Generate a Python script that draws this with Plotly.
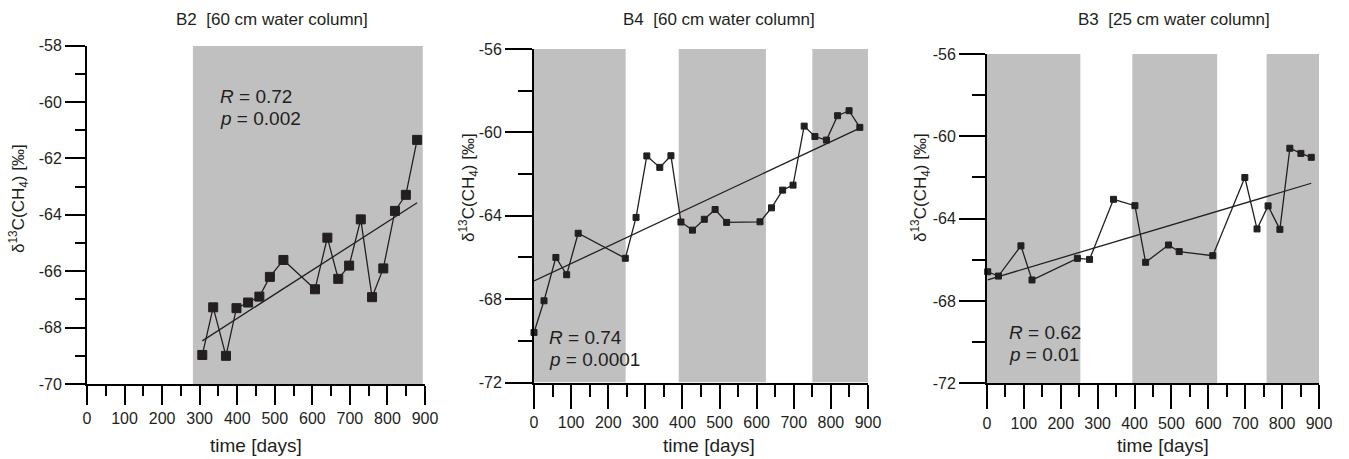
import plotly.graph_objects as go

W, H = 1349, 459
FONT = "Liberation Sans, Arial, sans-serif"
INK = "#231f20"
GREY = "#c0c0c0"

# ---------------- data ----------------
titles = ["B2  [60 cm water column]", "B4  [60 cm water column]", "B3  [25 cm water column]"]

b2_days = [307, 336, 370, 398, 429, 459, 487, 523, 607, 640, 669, 698, 729, 759, 789, 820, 849, 879]
b2_d13c = [-68.97, -67.28, -69.0, -67.31, -67.11, -66.9, -66.2, -65.6, -66.64, -64.81, -66.27,
           -65.8, -64.16, -66.92, -65.9, -63.86, -63.29, -61.34]

b4_days = [0, 27, 59, 88, 119, 246, 275, 304, 339, 369, 396, 427, 459, 488, 519, 609, 640, 670,
           698, 728, 757, 788, 818, 849, 878]
b4_d13c = [-69.6, -68.08, -66.0, -66.83, -64.84, -66.04, -64.08, -61.13, -61.68, -61.12, -64.3,
           -64.69, -64.17, -63.7, -64.32, -64.29, -63.62, -62.77, -62.53, -59.7, -60.2, -60.37,
           -59.2, -58.96, -59.76]

b3_days = [2, 31, 92, 122, 245, 278, 343, 401, 430, 492, 521, 612, 699, 732, 762, 794, 821, 851, 879]
b3_d13c = [-66.58, -66.79, -65.32, -66.98, -65.93, -65.98, -63.06, -63.37, -66.12, -65.28, -65.6,
           -65.8, -62.0, -64.5, -63.38, -64.52, -60.58, -60.83, -61.02]

# linear fits (intercept, slope per day)
b2_fit = [-71.10, 0.008566]
b4_fit = [-67.13, 0.008349]
b3_fit = [-66.98, 0.005347]

# shaded periods (days)
b2_shade = [[282, 894]]
b4_shade = [[0, 247], [390, 625], [750, 905]]
b3_shade = [[0, 253], [394, 624], [758, 915]]

stats_R = ["0.72", "0.74", "0.62"]
stats_p = ["0.002", "0.0001", "0.01"]

x_tickvals = [0, 100, 200, 300, 400, 500, 600, 700, 800, 900]
x_ticktext = ["0", "100", "200", "300", "400", "500", "600", "700", "800", "900"]
x_minor = [50, 150, 250, 350, 450, 550, 650, 750, 850]

y1_tickvals = [-70, -68, -66, -64, -62, -60, -58]
y1_ticktext = ["-70", "-68", "-66", "-64", "-62", "-60", "-58"]
y1_minor = [-69, -67, -65, -63, -61, -59]
y2_tickvals = [-72, -68, -64, -60, -56]
y2_ticktext = ["-72", "-68", "-64", "-60", "-56"]
y2_minor = [-70, -66, -62, -58]

# ---------------- geometry (pixels) ----------------
panels = [
    dict(x0=87, x1=425, ytop=45.7, ybot=384, yr=[-70, -58], xmaj=19, xmin=10, ymaj=20, ymin=10,
         yt=(y1_tickvals, y1_ticktext, y1_minor), title_x=272, ylab_x=19, ylab_y=199,
         stat_x=218, stat_y=96, xlab_x=256, msize=9),
    dict(x0=534, x1=868, ytop=49, ybot=382.5, yr=[-72, -56], xmaj=24, xmin=12, ymaj=27, ymin=14,
         yt=(y2_tickvals, y2_ticktext, y2_minor), title_x=719, ylab_x=469, ylab_y=188,
         stat_x=547, stat_y=337, xlab_x=709, msize=6),
    dict(x0=987, x1=1319, ytop=54, ybot=383.3, yr=[-72, -56], xmaj=24, xmin=12, ymaj=26, ymin=13,
         yt=(y2_tickvals, y2_ticktext, y2_minor), title_x=1174, ylab_x=921, ylab_y=188,
         stat_x=1007, stat_y=332, xlab_x=1163, msize=6),
]
series = [(b2_days, b2_d13c, b2_fit, b2_shade),
          (b4_days, b4_d13c, b4_fit, b4_shade),
          (b3_days, b3_d13c, b3_fit, b3_shade)]

px = lambda x: x / W
py = lambda y: 1 - y / H

fig = go.Figure()
shapes, annotations = [], []

for i, (p, (xd, yd, fit, shade)) in enumerate(zip(panels, series)):
    n = "" if i == 0 else str(i + 1)
    xa, ya = "x" + n, "y" + n
    # data line + markers
    fig.add_trace(go.Scatter(x=xd, y=yd, mode="lines+markers", xaxis=xa, yaxis=ya,
                             line=dict(color=INK, width=1.3),
                             marker=dict(symbol="square", size=p["msize"], color=INK,
                                         line=dict(color=INK, width=1)),
                             showlegend=False, cliponaxis=False))
    # regression line
    fitted = [fit[0] + fit[1] * d for d in xd]
    fig.add_trace(go.Scatter(x=xd, y=fitted, mode="lines", xaxis=xa, yaxis=ya,
                             line=dict(color=INK, width=1.3), showlegend=False))
    # shaded periods
    for s0, s1 in shade:
        shapes.append(dict(type="rect", xref=xa, yref=ya, x0=s0, x1=s1,
                           y0=p["yr"][0], y1=p["yr"][1], fillcolor=GREY,
                           line=dict(width=0), layer="below"))
    tv, tt, tm = p["yt"]
    fig.update_layout(**{
        "xaxis" + n: dict(domain=[px(p["x0"]), px(p["x1"])], range=[0, 900], anchor=ya,
                          automargin=False,
                          showline=True, linecolor="black", linewidth=2, showgrid=False,
                          zeroline=False, ticks="outside", ticklen=p["xmaj"], tickwidth=2,
                          tickcolor="black", tickmode="array", tickvals=x_tickvals,
                          ticktext=x_ticktext,
                          tickfont=dict(family=FONT, size=16, color=INK),
                          minor=dict(tickmode="array", tickvals=x_minor, ticks="outside",
                                     ticklen=p["xmin"], tickwidth=2, tickcolor="black",
                                     showgrid=False)),
        "yaxis" + n: dict(domain=[py(p["ybot"]), py(p["ytop"])], range=p["yr"], anchor=xa,
                          automargin=False,
                          showline=True, linecolor="black", linewidth=2, showgrid=False,
                          zeroline=False, ticks="outside", ticklen=p["ymaj"], tickwidth=2,
                          tickcolor="black", tickmode="array", tickvals=tv, ticktext=tt,
                          tickfont=dict(family=FONT, size=16, color=INK),
                          minor=dict(tickmode="array", tickvals=tm, ticks="outside",
                                     ticklen=p["ymin"], tickwidth=2, tickcolor="black",
                                     showgrid=False)),
    })
    # panel title
    annotations.append(dict(text=titles[i], x=px(p["title_x"]), y=py(19), xref="paper",
                            yref="paper", showarrow=False, xanchor="center", yanchor="middle",
                            font=dict(family=FONT, size=17, color=INK)))
    # y axis label
    annotations.append(dict(text="δ<sup>13</sup>C(CH<sub>4</sub>) [‰]", x=px(p["ylab_x"]),
                            y=py(p["ylab_y"]), xref="paper", yref="paper", showarrow=False,
                            textangle=-90, xanchor="center", yanchor="middle",
                            font=dict(family=FONT, size=17, color=INK)))
    # x axis label
    annotations.append(dict(text="time [days]", x=px(p["xlab_x"]), y=py(445), xref="paper",
                            yref="paper", showarrow=False, xanchor="center", yanchor="middle",
                            font=dict(family=FONT, size=19, color=INK)))
    # statistics
    annotations.append(dict(text=f"<i>R</i> = {stats_R[i]}", x=px(p["stat_x"]),
                            y=py(p["stat_y"]), xref="paper", yref="paper", showarrow=False,
                            xanchor="left", yanchor="middle",
                            font=dict(family=FONT, size=19, color=INK)))
    annotations.append(dict(text=f"<i>p</i> = {stats_p[i]}", x=px(p["stat_x"]),
                            y=py(p["stat_y"] + 22), xref="paper", yref="paper",
                            showarrow=False, xanchor="left", yanchor="middle",
                            font=dict(family=FONT, size=19, color=INK)))

fig.update_layout(width=W, height=H,
                  margin=dict(l=0, r=0, t=0, b=0, pad=0, autoexpand=False),
                  paper_bgcolor="white", plot_bgcolor="white",
                  shapes=shapes, annotations=annotations, showlegend=False)

fig.write_html("out.html", config={"displayModeBar": False},
               post_script="document.body.style.margin='0';document.body.style.overflow='hidden';")
